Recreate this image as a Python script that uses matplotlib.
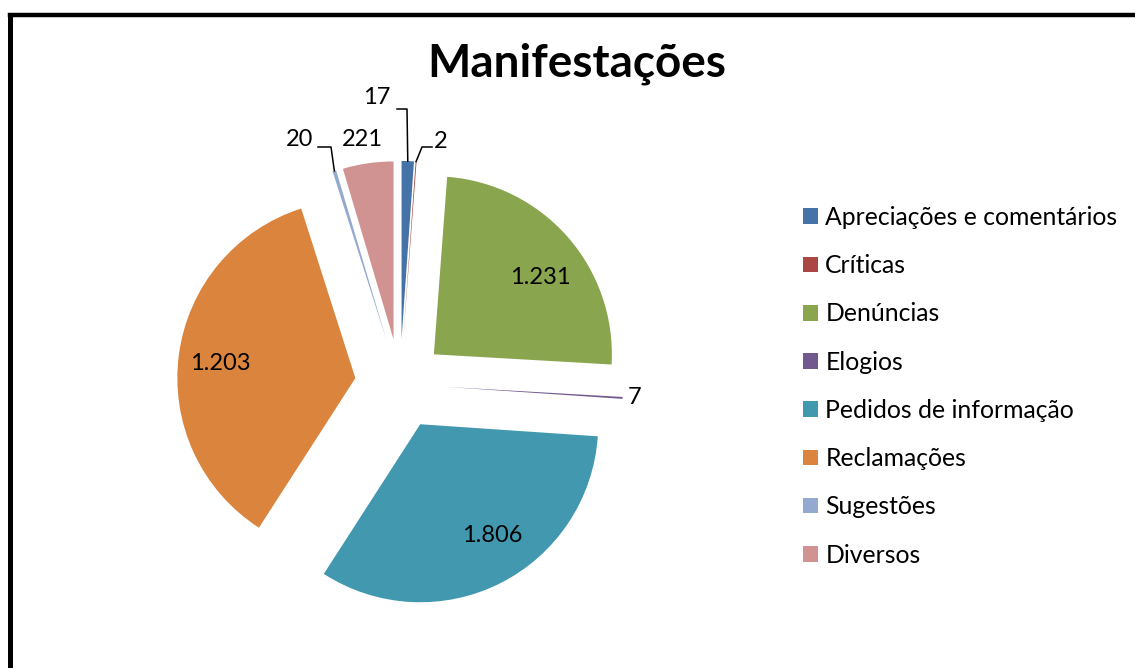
import matplotlib
matplotlib.use("Agg")
import matplotlib.pyplot as plt
from matplotlib.lines import Line2D
import numpy as np

plt.rcParams['font.family'] = ['Lato', 'DejaVu Sans']

categorias = ["Apreciações e comentários", "Críticas", "Denúncias", "Elogios",
              "Pedidos de informação", "Reclamações", "Sugestões", "Diversos"]
# share of the circle each slice takes in the picture (percent)
fatias = [1.11, 0.08, 24.72, 0.17, 33.03, 35.97, 0.33, 4.59]
# value labels as printed on the chart
rotulos = ["17", "2", "1.231", "7", "1.806", "1.203", "20", "221"]
cores = ['#4572A7', '#AA4643', '#89A54E', '#71588F',
         '#4198AF', '#DB843D', '#93A9CF', '#D19392']

W, H = 1135, 668
CX, CY, R = 400, 384, 178   # pie centre and radius in pixels
L = 1.5


def px(x, y):
    return ((x - CX) / R, (CY - y) / R)


fig = plt.figure(figsize=(W / 100, H / 100), dpi=100)
side = 2 * L * R
ax = fig.add_axes([(CX - side / 2) / W, (H - CY - side / 2) / H, side / W, side / H])

wedges, _ = ax.pie(fatias, colors=cores, startangle=90, counterclock=False,
                   explode=[0.253] * len(fatias), radius=1,
                   wedgeprops=dict(linewidth=0))
ax.set_xlim(-L, L)
ax.set_ylim(-L, L)
ax.set_aspect('equal')
ax.axis('off')

# label positions (pixels)
pos_rotulos = [(377, 98), (441, 141), (540, 277), (635, 398),
               (492, 535), (220, 363), (300, 140), (362, 140)]
for txt, (x, y) in zip(rotulos, pos_rotulos):
    ax.text(*px(x, y), txt, ha='center', va='center', fontsize=17, color='black')


def ponta(w):
    ang = np.deg2rad((w.theta1 + w.theta2) / 2)
    return (w.center[0] + w.r * np.cos(ang), w.center[1] + w.r * np.sin(ang))


# leader lines for the tiny slices
guias = {0: [(397, 109), (407, 109)], 1: [(432, 147), (422, 147)], 6: [(318, 147), (331, 147)]}
for i, pts in guias.items():
    xs = [px(*p)[0] for p in pts]
    ys = [px(*p)[1] for p in pts]
    tx, ty = ponta(wedges[i])
    xs.append(tx)
    ys.append(ty)
    ax.plot(xs, ys, color='black', lw=1.1, clip_on=False)

fig.text(577 / W, 1 - 64 / H, "Manifestações", ha='center', va='center',
         fontsize=33, fontweight='bold')

fig.legend(wedges, categorias, loc='upper left', bbox_to_anchor=(803 / W, 1 - 206 / H),
           frameon=False, fontsize=17.8, handlelength=0.6, handleheight=0.6,
           handletextpad=0.3, labelspacing=1.02, borderaxespad=0, borderpad=0)

# outer chart border (cut at the right and bottom)
fig.add_artist(Line2D([10 / W, 1.01], [1 - 14.7 / H] * 2, color='black', lw=3.2,
                      transform=fig.transFigure, solid_capstyle='projecting'))
fig.add_artist(Line2D([10 / W] * 2, [1 - 14.7 / H, -0.01], color='black', lw=3.6,
                      transform=fig.transFigure, solid_capstyle='projecting'))

fig.savefig("out.png", dpi=100)
